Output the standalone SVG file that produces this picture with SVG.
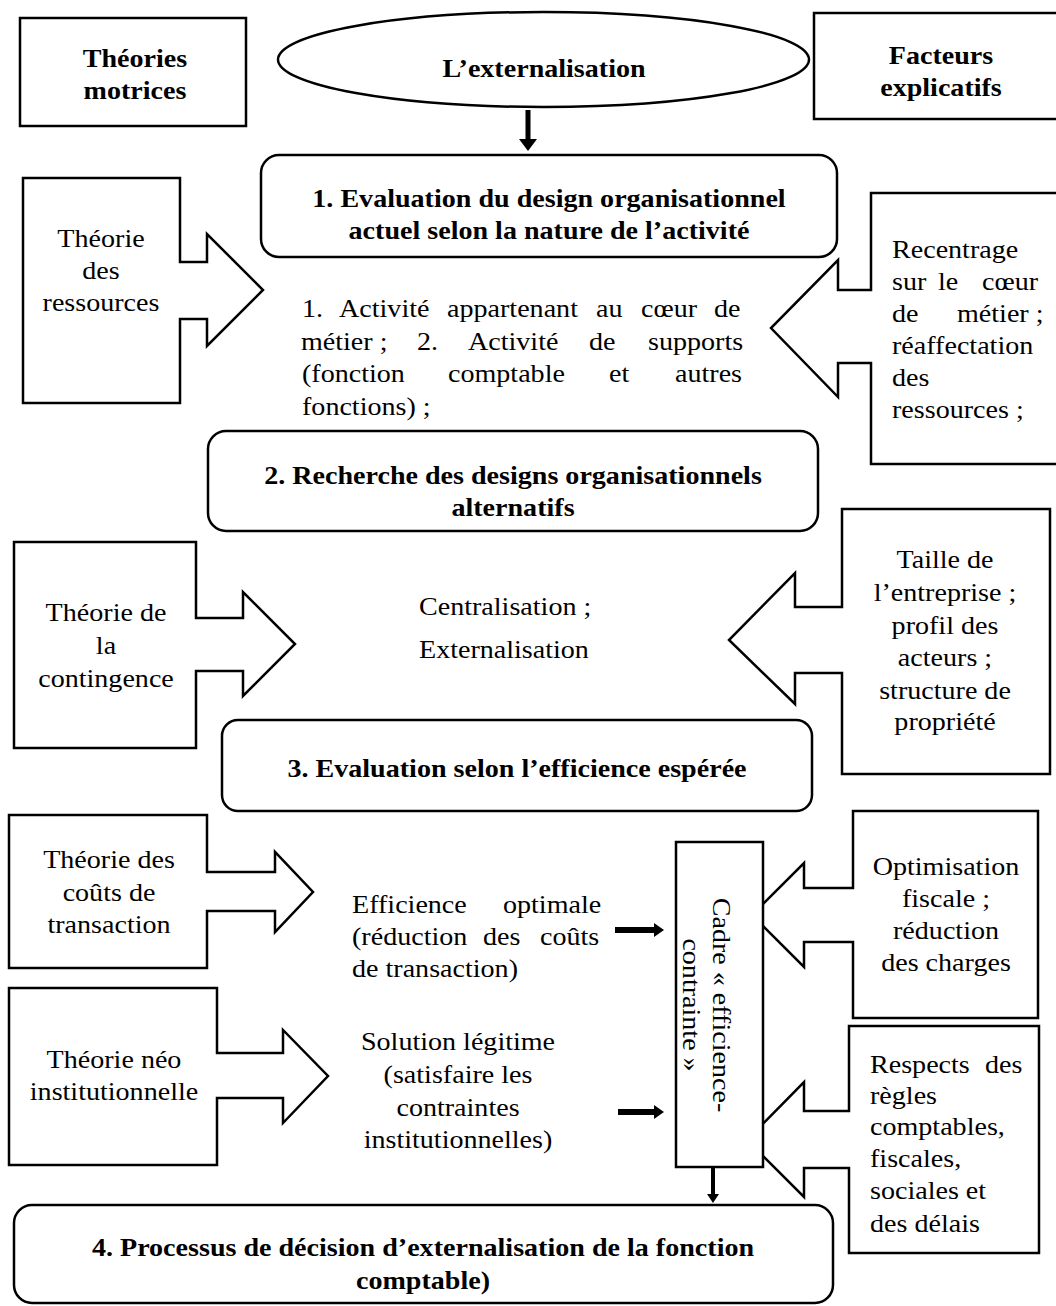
<svg xmlns="http://www.w3.org/2000/svg" width="1056" height="1306" viewBox="0 0 1056 1306">
<style>
.bx{fill:#fff;stroke:#000;stroke-width:2.5}
.t{font-family:'Liberation Serif','DejaVu Serif',serif;font-size:26px;fill:#000}
.b{font-weight:bold}
.ar{fill:#000;stroke:none}
</style>
<rect width="1056" height="1306" fill="#fff"/>

<g id="theories-motrices">
<rect class="bx" x="20" y="18" width="226" height="108"/>
<text class="t b" font-family="Liberation Serif" text-anchor="middle" transform="translate(135 0) scale(1.08 1)"><tspan x="0" y="67">Théories</tspan><tspan x="0" y="99">motrices</tspan></text>
</g>

<g id="externalisation">
<ellipse class="bx" cx="543.5" cy="59.5" rx="265.5" ry="47.5"/>
<text class="t b" text-anchor="middle" transform="translate(544 0) scale(1.08 1)"><tspan x="0" y="77">L’externalisation</tspan></text>
</g>

<g id="facteurs-explicatifs">
<rect class="bx" x="814" y="13" width="250" height="106"/>
<text class="t b" text-anchor="middle" transform="translate(941 0) scale(1.08 1)"><tspan x="0" y="64">Facteurs</tspan><tspan x="0" y="96">explicatifs</tspan></text>
</g>

<g id="etape1">
<rect class="bx" x="261" y="155" width="576" height="102" rx="18"/>
<text class="t b" text-anchor="middle" transform="translate(549 0) scale(1.08 1)"><tspan x="0" y="207">1. Evaluation du design organisationnel</tspan><tspan x="0" y="239">actuel selon la nature de l’activité</tspan></text>
</g>

<g id="theorie-ressources">
<path class="bx" d="M23,178 H180 V262 H207 V234 L263,290 L207,346 V319 H180 V403 H23 Z"/>
<text class="t" text-anchor="middle" transform="translate(101 0) scale(1.08 1)"><tspan x="0" y="247">Théorie</tspan><tspan x="0" y="279">des</tspan><tspan x="0" y="311">ressources</tspan></text>
</g>

<g id="activites">
<text class="t" transform="translate(302 0) scale(1.08 1)">
<tspan x="0" y="317">1.</tspan><tspan x="34.3" y="317">Activité</tspan><tspan x="134.3" y="317">appartenant</tspan><tspan x="272.2" y="317">au</tspan><tspan x="313.9" y="317">cœur</tspan><tspan x="381.5" y="317">de</tspan>
<tspan x="-1" y="350">métier ;</tspan><tspan x="106.5" y="350">2.</tspan><tspan x="153.7" y="350">Activité</tspan><tspan x="265.7" y="350">de</tspan><tspan x="320.4" y="350">supports</tspan>
<tspan x="0" y="382">(fonction</tspan><tspan x="135.2" y="382">comptable</tspan><tspan x="284.3" y="382">et</tspan><tspan x="345.4" y="382">autres</tspan>
<tspan x="0" y="415">fonctions) ;</tspan>
</text>
</g>

<g id="recentrage">
<path class="bx" d="M1060,193 H871 V290 H838 V260 L771,328 L838,397 V363 H871 V464 H1060"/>
<text class="t" transform="translate(892 0) scale(1.08 1)">
<tspan x="0" y="258">Recentrage</tspan>
<tspan x="0" y="290">sur</tspan><tspan x="42.6" y="290">le</tspan><tspan x="83.3" y="290">cœur</tspan>
<tspan x="0" y="322">de</tspan><tspan x="60.2" y="322">métier ;</tspan>
<tspan x="0" y="354">réaffectation</tspan>
<tspan x="0" y="386">des</tspan>
<tspan x="0" y="418">ressources ;</tspan>
</text>
</g>

<g id="etape2">
<rect class="bx" x="208" y="431" width="610" height="100" rx="18"/>
<text class="t b" text-anchor="middle" transform="translate(513 0) scale(1.08 1)"><tspan x="0" y="484">2. Recherche des designs organisationnels</tspan><tspan x="0" y="516">alternatifs</tspan></text>
</g>

<g id="theorie-contingence">
<path class="bx" d="M14,542 H196 V618 H243 V592 L295,644 L243,696 V671 H196 V748 H14 Z"/>
<text class="t" text-anchor="middle" transform="translate(106 0) scale(1.08 1)"><tspan x="0" y="621">Théorie de</tspan><tspan x="0" y="654">la</tspan><tspan x="0" y="687">contingence</tspan></text>
</g>

<g id="alternatives">
<text class="t" transform="translate(419 0) scale(1.08 1)"><tspan x="0" y="615">Centralisation ;</tspan><tspan x="0" y="658">Externalisation</tspan></text>
</g>

<g id="taille">
<path class="bx" d="M842,509 H1050 V774 H842 V673 H795 V704 L729,640 L795,573 V607 H842 Z"/>
<text class="t" text-anchor="middle" transform="translate(945 0) scale(1.08 1)"><tspan x="0" y="568">Taille de</tspan><tspan x="0" y="601">l’entreprise ;</tspan><tspan x="0" y="634">profil des</tspan><tspan x="0" y="666">acteurs ;</tspan><tspan x="0" y="699">structure de</tspan><tspan x="0" y="730">propriété</tspan></text>
</g>

<g id="etape3">
<rect class="bx" x="222" y="720" width="590" height="91" rx="16"/>
<text class="t b" text-anchor="middle" transform="translate(517 0) scale(1.08 1)"><tspan x="0" y="777">3. Evaluation selon l’efficience espérée</tspan></text>
</g>

<g id="theorie-couts-transaction">
<path class="bx" d="M9,815 H207 V872 H275 V852 L313,892 L275,932 V911 H207 V968 H9 Z"/>
<text class="t" text-anchor="middle" transform="translate(109 0) scale(1.08 1)"><tspan x="0" y="868">Théorie des</tspan><tspan x="0" y="901">coûts de</tspan><tspan x="0" y="933">transaction</tspan></text>
</g>

<g id="theorie-neo-institutionnelle">
<path class="bx" d="M9,988 H217 V1053 H283 V1030 L328,1076 L283,1123 V1098 H217 V1165 H9 Z"/>
<text class="t" text-anchor="middle" transform="translate(114 0) scale(1.08 1)"><tspan x="0" y="1068">Théorie néo</tspan><tspan x="0" y="1100">institutionnelle</tspan></text>
</g>

<g id="efficience-optimale">
<text class="t" transform="translate(352 0) scale(1.08 1)">
<tspan x="0" y="913">Efficience</tspan><tspan x="139.8" y="913">optimale</tspan>
<tspan x="0" y="945">(réduction</tspan><tspan x="121.3" y="945">des</tspan><tspan x="174.1" y="945">coûts</tspan>
<tspan x="0" y="977">de transaction)</tspan>
</text>
</g>

<g id="solution-legitime">
<text class="t" text-anchor="middle" transform="translate(458 0) scale(1.08 1)"><tspan x="0" y="1050">Solution légitime</tspan><tspan x="0" y="1083">(satisfaire les</tspan><tspan x="0" y="1116">contraintes</tspan><tspan x="0" y="1148">institutionnelles)</tspan></text>
</g>

<g id="optimisation">
<path class="bx" d="M853,811 H1038 V1018 H853 V942 H804 V967 L752,915 L804,863 V888 H853 Z"/>
<text class="t" text-anchor="middle" transform="translate(946 0) scale(1.08 1)"><tspan x="0" y="875">Optimisation</tspan><tspan x="0" y="907">fiscale ;</tspan><tspan x="0" y="939">réduction</tspan><tspan x="0" y="971">des charges</tspan></text>
</g>

<g id="respects">
<path class="bx" d="M849,1026 H1039 V1253 H849 V1168 H804 V1197 L747,1140 L804,1082 V1111 H849 Z"/>
<text class="t" transform="translate(870 0) scale(1.08 1)">
<tspan x="0" y="1073">Respects</tspan><tspan x="106.5" y="1073">des</tspan>
<tspan x="0" y="1104">règles</tspan>
<tspan x="0" y="1135">comptables,</tspan>
<tspan x="0" y="1167">fiscales,</tspan>
<tspan x="0" y="1199">sociales et</tspan>
<tspan x="0" y="1232">des délais</tspan>
</text>
</g>

<g id="cadre">
<rect class="bx" x="676" y="842" width="87" height="325"/>
<text class="t" text-anchor="middle" transform="translate(713 1005) rotate(90) scale(1.08 1)"><tspan x="0" y="0">Cadre « efficience-</tspan><tspan x="0" y="30">contrainte »</tspan></text>
</g>

<g id="etape4">
<rect class="bx" x="14" y="1205" width="819" height="98" rx="18"/>
<text class="t b" text-anchor="middle" transform="translate(423 0) scale(1.08 1)"><tspan x="0" y="1256">4. Processus de décision d’externalisation de la fonction</tspan><tspan x="0" y="1289">comptable)</tspan></text>
</g>

<g id="connectors">
<rect class="ar" x="525.5" y="110" width="5" height="30"/>
<polygon class="ar" points="519,139 537,139 528,151"/>
<rect class="ar" x="615" y="927" width="41" height="6"/>
<polygon class="ar" points="654,923 654,937 664,930"/>
<rect class="ar" x="618" y="1109" width="38" height="6"/>
<polygon class="ar" points="654,1105 654,1119 664,1112"/>
<rect class="ar" x="711" y="1167" width="4" height="28"/>
<polygon class="ar" points="707,1194 719,1194 713,1203"/>
</g>
</svg>
